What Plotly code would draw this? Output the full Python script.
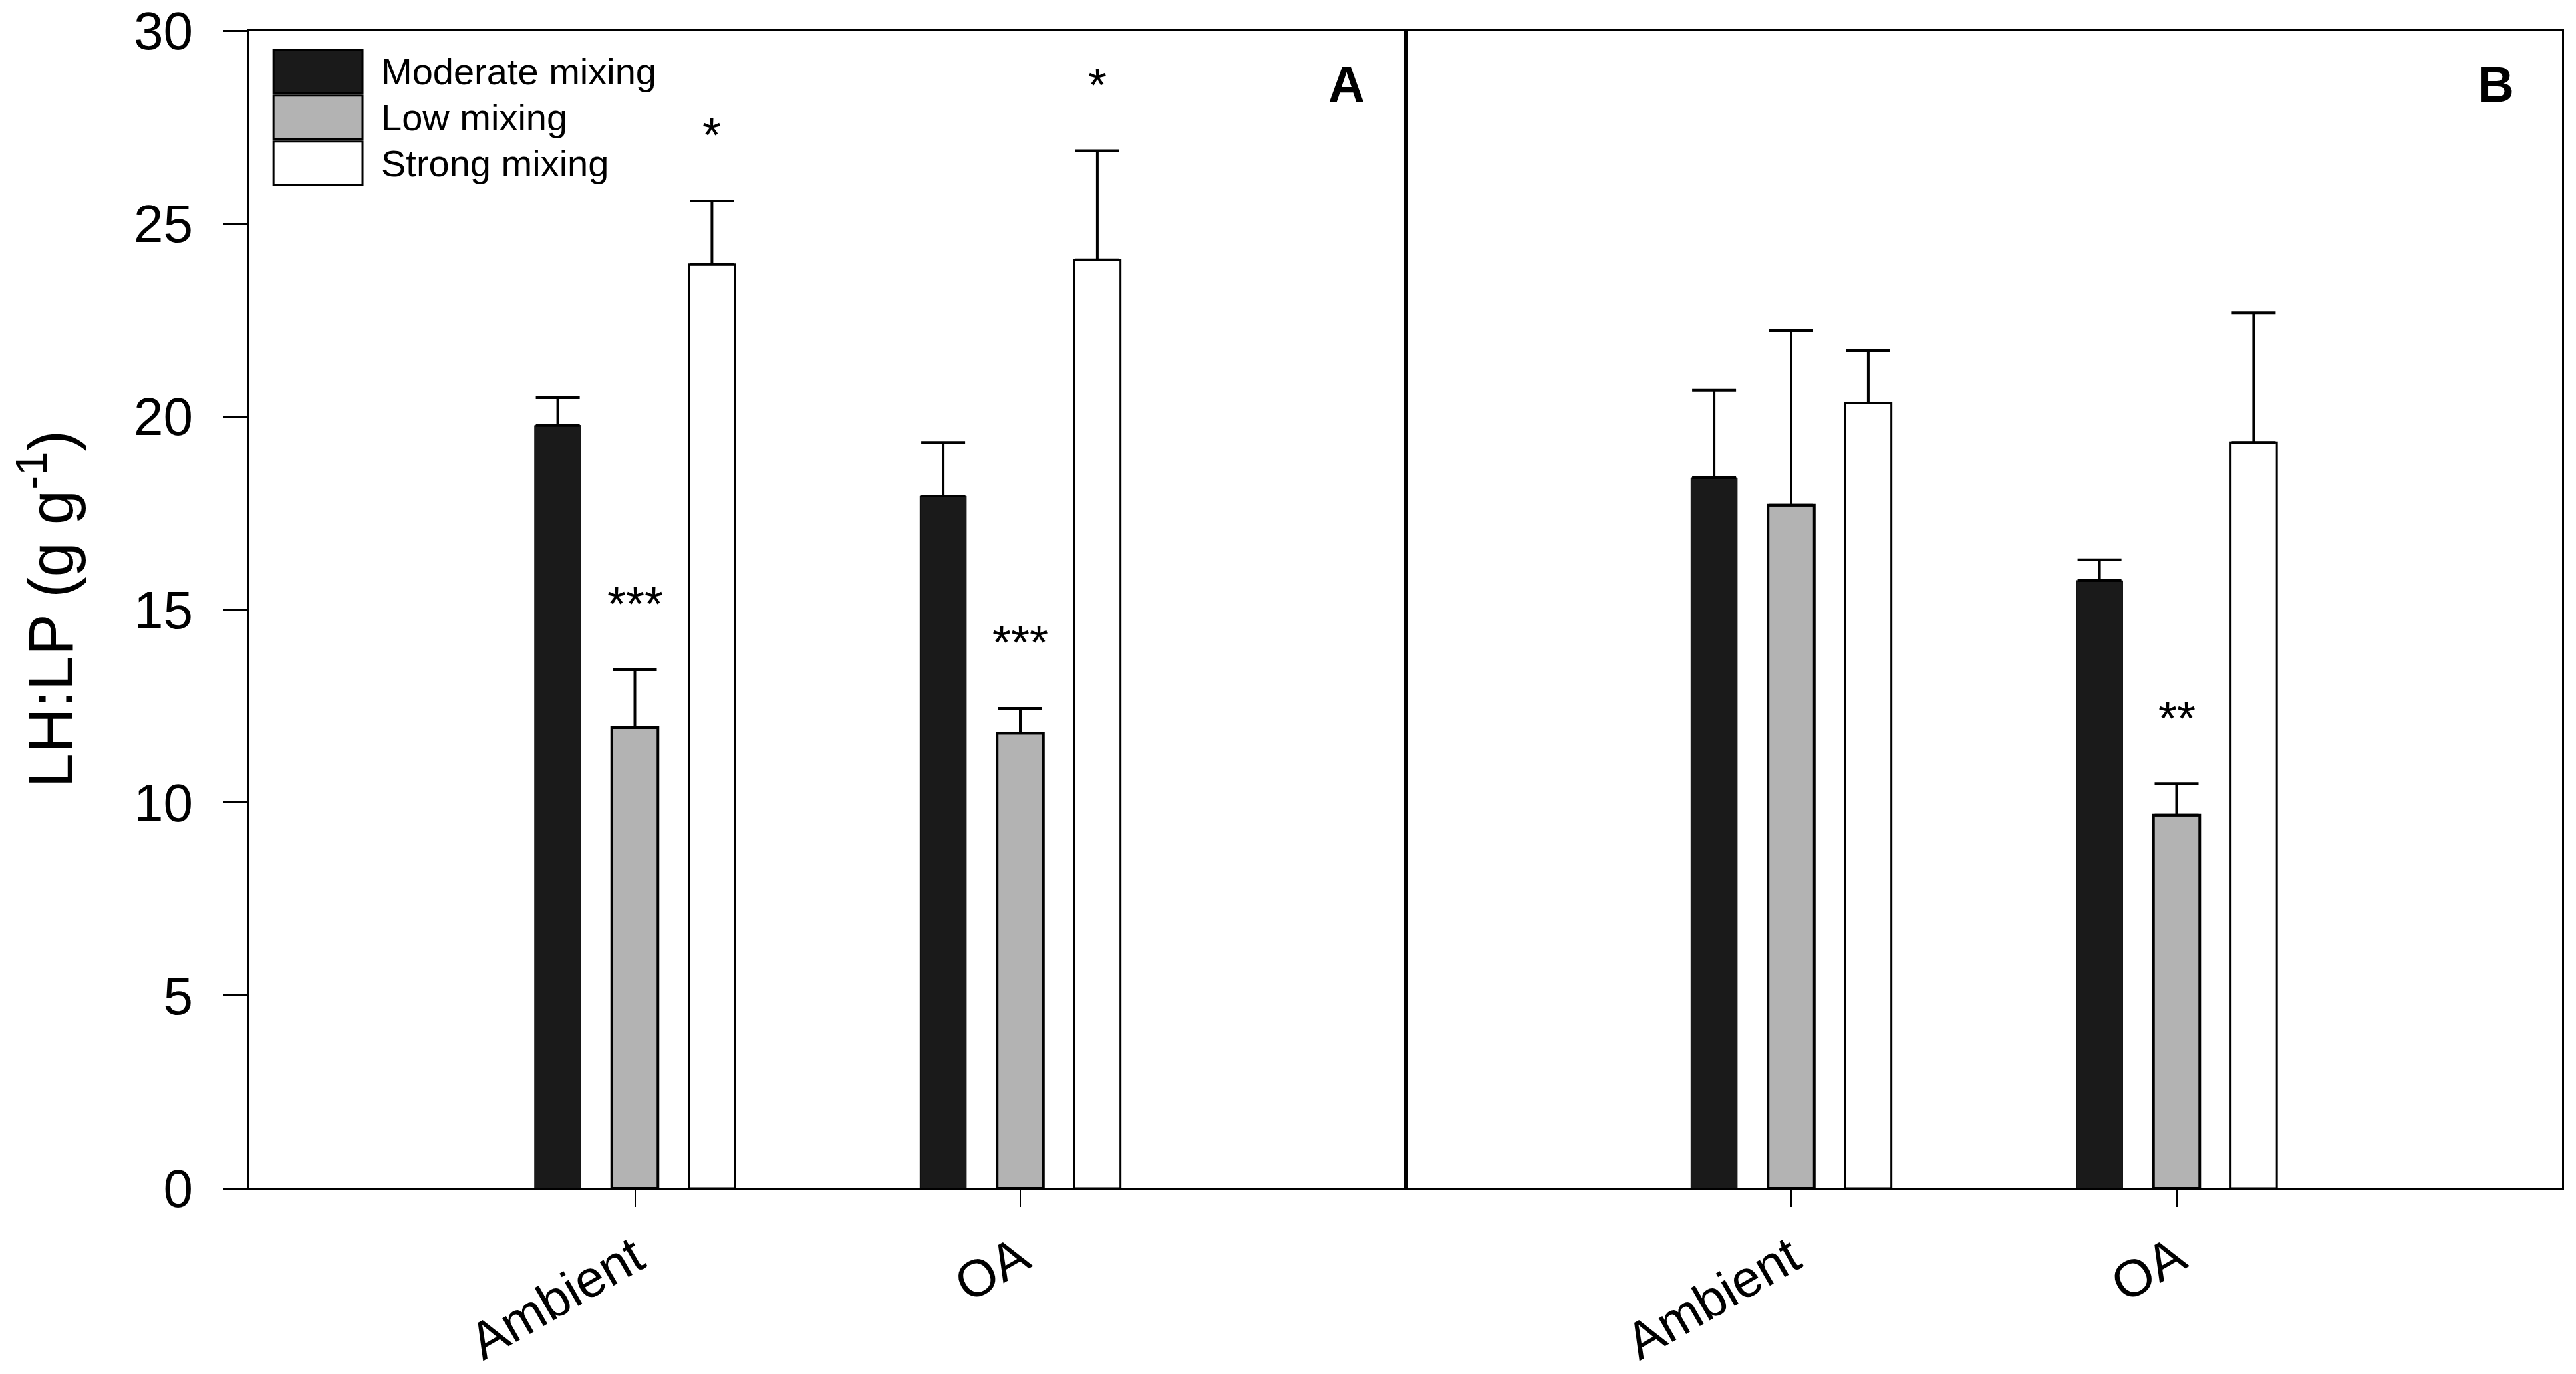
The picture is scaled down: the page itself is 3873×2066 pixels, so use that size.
import plotly.graph_objects as go
from plotly.subplots import make_subplots

treatments = ["Ambient", "OA"]
series = ["Moderate mixing", "Low mixing", "Strong mixing"]
fills = ["#1a1a1a", "#b3b3b3", "#ffffff"]

# panel A: means and SE
a_mod = [19.77, 17.94]
a_low = [11.94, 11.80]
a_str = [23.94, 24.06]
a_mod_se = [0.72, 1.39]
a_low_se = [1.50, 0.64]
a_str_se = [1.65, 2.83]
a_sig = [["", ""], ["***", "***"], ["*", "*"]]

# panel B
b_mod = [18.42, 15.75]
b_low = [17.70, 9.67]
b_str = [20.35, 19.33]
b_mod_se = [2.26, 0.54]
b_low_se = [4.53, 0.82]
b_str_se = [1.36, 3.36]
b_sig = [["", ""], ["", "**"], ["", ""]]

panels = [
    ([a_mod, a_low, a_str], [a_mod_se, a_low_se, a_str_se], a_sig, "A"),
    ([b_mod, b_low, b_str], [b_mod_se, b_low_se, b_str_se], b_sig, "B"),
]

FONT = "Liberation Sans, Arial, sans-serif"
outline = [1, 4, 3]

fig = make_subplots(rows=1, cols=2, shared_yaxes=True, horizontal_spacing=0)

annots = []
for p, (means, ses, sigs, lab) in enumerate(panels):
    col = p + 1
    xref = "x" if col == 1 else "x2"
    for i, name in enumerate(series):
        fig.add_trace(go.Bar(
            x=treatments, y=means[i], name=name, showlegend=False,
            marker=dict(color=fills[i], line=dict(color="black", width=outline[i])),
            error_y=dict(type="data", array=ses[i], arrayminus=[0] * len(ses[i]),
                         symmetric=False, color="black", thickness=4, width=33),
        ), row=1, col=col)
        for j, s in enumerate(sigs[i]):
            if s:
                annots.append(dict(
                    x=j + (i - 1) * 0.2, y=means[i][j] + ses[i][j] + 1.7,
                    xref=xref, yref="y", text=s, showarrow=False,
                    font=dict(family=FONT, size=72, color="black"),
                    xanchor="center", yanchor="middle"))
    # panel letter
    annots.append(dict(x=1, y=0.954, xref=xref + " domain", yref="paper",
                       text="<b>" + lab + "</b>", showarrow=False,
                       xanchor="right", yanchor="middle", xshift=-60 if col == 1 else -70,
                       font=dict(family=FONT, size=76, color="black")))

# y title
annots.append(dict(x=-0.088, y=0.5, xref="paper", yref="paper",
                   text="LH:LP (g g<sup>-1</sup>)", textangle=-90, showarrow=False,
                   xanchor="center", yanchor="middle",
                   font=dict(family=FONT, size=94, color="black")))

# legend drawn as boxes inside panel A
shapes = []
box_top, box_h, box_step = 0.9834, 0.0373, 0.0396
for i, name in enumerate(series):
    y1 = box_top - i * box_step
    y0 = y1 - box_h
    shapes.append(dict(type="rect", xref="paper", yref="paper",
                       x0=0.0104, x1=0.0489, y0=y0, y1=y1,
                       fillcolor=fills[i], line=dict(color="black", width=3)))
    annots.append(dict(x=0.0565, y=(y0 + y1) / 2, xref="paper", yref="paper",
                       text=name, showarrow=False, xanchor="left", yanchor="middle",
                       font=dict(family=FONT, size=56, color="black")))

# page body adds an 8px offset, so the figure is a bit smaller than the window
fig.update_layout(
    width=3865, height=2058,
    margin=dict(l=367, r=21, t=38, b=279),
    plot_bgcolor="white", paper_bgcolor="white",
    barmode="group", bargap=0.4, bargroupgap=0.4,
    annotations=annots, shapes=shapes,
    font=dict(family=FONT, color="black"),
)

fig.update_xaxes(
    range=[-1, 2], showline=True, linecolor="black", linewidth=3, mirror=True,
    ticks="outside", ticklen=25, tickwidth=2, tickcolor="black",
    tickangle=-30, tickfont=dict(family=FONT, size=78, color="black"),
    showgrid=False, zeroline=False, automargin=False,
)
fig.update_yaxes(
    range=[0, 30], dtick=5, showline=True, linecolor="black", linewidth=3, mirror=True,
    showgrid=False, zeroline=False, automargin=False,
)
fig.update_yaxes(ticks="outside", ticklen=36, tickwidth=3, tickcolor="black",
                 ticklabelstandoff=30, ticklabeloverflow="allow",
                 tickfont=dict(family=FONT, size=80, color="black"), row=1, col=1)
fig.update_yaxes(ticks="", showticklabels=False, row=1, col=2)

fig.write_html("out.html")
